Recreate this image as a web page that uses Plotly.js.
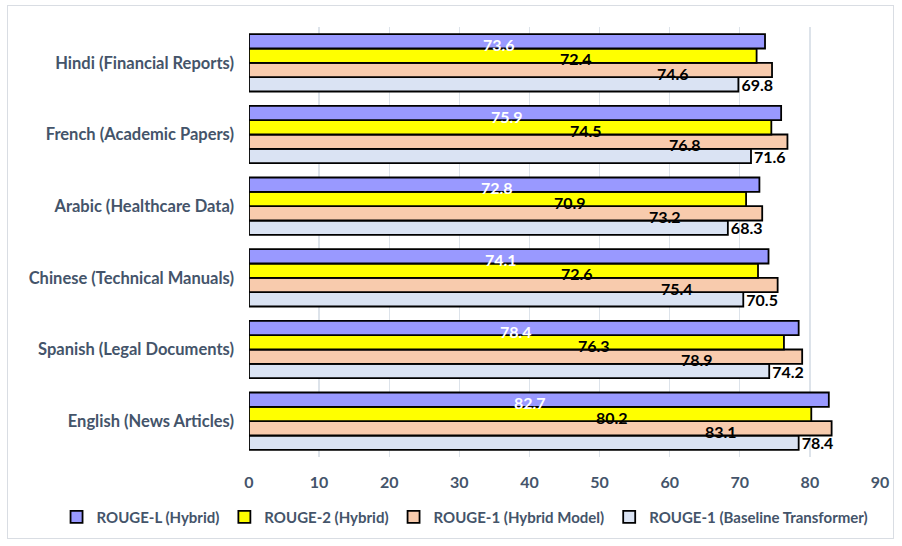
<!DOCTYPE html>
<html>
<head>
<meta charset="utf-8">
<script src="https://cdn.plot.ly/plotly-3.0.1.min.js"></script>
<style>
  html, body { margin: 0; padding: 0; background: #ffffff; }
  #frame { position: absolute; left: 7px; top: 5px; width: 887px; height: 534px; border: 1px solid #d9dde3; box-sizing: border-box; }
  #chart { position: absolute; left: 0; top: 0; width: 902px; height: 546px; }
</style>
</head>
<body>
<div id="frame"></div>
<div id="chart"></div>
<script>
// Categories from bottom to top
const categories = [
  "English (News Articles)",
  "Spanish (Legal Documents)",
  "Chinese (Technical Manuals)",
  "Arabic (Healthcare Data)",
  "French (Academic Papers)",
  "Hindi (Financial Reports)"
];
const rougeLHybrid     = [82.7, 78.4, 74.1, 72.8, 75.9, 73.6];
const rouge2Hybrid     = [80.2, 76.3, 72.6, 70.9, 74.5, 72.4];
const rouge1Hybrid     = [83.1, 78.9, 75.4, 73.2, 76.8, 74.6];
const rouge1Baseline   = [78.4, 74.2, 70.5, 68.3, 71.6, 69.8];
const xTickVals = [0, 10, 20, 30, 40, 50, 60, 70, 80, 90];

const textColor = "#44546a";
const fontFam = "Lato, 'Open Sans', sans-serif";
const outline = { color: "#000000", width: 1.8 };

const traces = [
  { name: "ROUGE-1 (Baseline Transformer)", values: rouge1Baseline, color: "#dae3f3" },
  { name: "ROUGE-1 (Hybrid Model)", values: rouge1Hybrid, color: "#f8cbad" },
  { name: "ROUGE-2 (Hybrid)", values: rouge2Hybrid, color: "#ffff00" },
  { name: "ROUGE-L (Hybrid)", values: rougeLHybrid, color: "#9999ff" }
].map((s, k) => ({
  type: "bar",
  orientation: "h",
  name: s.name,
  y: categories,
  x: s.values,
  marker: { color: s.color, line: outline },
  text: k === 0 ? s.values.map(v => v.toFixed(1)) : undefined,
  textposition: k === 0 ? "outside" : "none",
  constraintext: "none",
  textfont: { family: fontFam, size: 16, color: "#000000", weight: 700 },
  cliponaxis: false,
  hoverinfo: "x+name"
}));

// inside labels (Excel-like placement along the bar)
const annotations = [];
const placeFrac = [0.81, 0.645, 0.485]; // R1, R2, L
const rowOffset = [-0.1, 0.1, 0.3];
const labelSeries = [rouge1Hybrid, rouge2Hybrid, rougeLHybrid];
const labelColors = ["#000000", "#000000", "#ffffff"];
labelSeries.forEach((vals, s) => {
  vals.forEach((v, i) => {
    annotations.push({
      x: v * placeFrac[s],
      y: i + rowOffset[s],
      xref: "x", yref: "y",
      text: v.toFixed(1),
      showarrow: false,
      yshift: -3,
      font: { family: fontFam, size: 16, color: labelColors[s], weight: 700 }
    });
  });
});

const layout = {
  width: 902,
  height: 546,
  margin: { l: 249, r: 22, t: 27, b: 86 },
  paper_bgcolor: "rgba(0,0,0,0)",
  plot_bgcolor: "rgba(0,0,0,0)",
  barmode: "group",
  bargap: 0.2,
  bargroupgap: 0,
  showlegend: true,
  legend: {
    orientation: "h",
    traceorder: "reversed",
    x: -0.305, xanchor: "left",
    y: -0.14, yanchor: "middle",
    font: { family: fontFam, size: 15, color: textColor, weight: 700 },
    itemwidth: 30,
    tracegroupgap: 0
  },
  xaxis: {
    range: [0, 90],
    tickvals: xTickVals,
    showgrid: true,
    gridcolor: "#dde3ea",
    gridwidth: 1.3,
    zeroline: false,
    showline: false,
    ticks: "",
    tickfont: { family: fontFam, size: 16, color: textColor, weight: 700 },
    ticklabelstandoff: 14
  },
  yaxis: {
    type: "category",
    categoryorder: "array",
    categoryarray: categories,
    showgrid: false,
    zeroline: false,
    showline: false,
    ticks: "",
    tickfont: { family: fontFam, size: 16.5, color: textColor, weight: 700 },
    ticklabelstandoff: 14
  },
  annotations: annotations,
  font: { family: fontFam }
};

Plotly.newPlot("chart", traces, layout, { displayModeBar: false, staticPlot: true });
</script>
</body>
</html>
